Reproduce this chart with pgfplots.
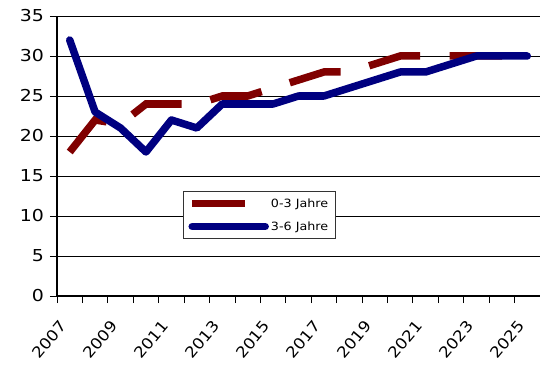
\documentclass[border=0pt]{standalone}
\usepackage{fontspec}
\setmainfont{DejaVu Sans}
\usepackage{pgfplots}
\pgfplotsset{compat=1.18}
\definecolor{cred}{HTML}{800000}
\definecolor{cblue}{HTML}{000080}
\begin{document}
\begin{tikzpicture}
\begin{axis}[
 scale only axis, width=483bp, height=280bp,
 xmin=-0.5, xmax=18.5, ymin=0, ymax=35,
 axis x line*=bottom, axis y line*=left,
 axis line style={-, line width=1.2bp, black},
 /pgf/number format/assume math mode=true,
 ytick={0,5,...,30},
 extra y ticks={35},
 extra y tick style={grid style={gray!80, line width=1.2bp}},
 ymajorgrids, major grid style={black, line width=0.8bp},
 xtick={0,2,...,18},
 xticklabels={2007,2009,2011,2013,2015,2017,2019,2021,2023,2025},
 minor xtick={-0.5,0.5,...,18.5},
 tick align=outside,
 major tick length=7bp, minor tick length=7bp,
 every major x tick/.append style={draw=none},
 every minor x tick/.append style={black, line width=0.8bp},
 every major y tick/.append style={black, line width=0.8bp},
 yticklabel style={font=\fontsize{16.5}{18}\selectfont, xscale=1.15, inner xsep=1bp, xshift=-4bp},
 xticklabel style={font=\fontsize{15.2}{17}\selectfont, rotate=50, xscale=1.12, anchor=east, xshift=-14bp, yshift=-8bp},
 legend style={at={(rel axis cs:0.261,0.375)}, anchor=north west, draw=black!80, line width=0.8bp, fill=white,
   font=\fontsize{11.4}{13}\selectfont, inner xsep=5bp, inner ysep=5bp, row sep=9bp},
 legend cell align=left,
 legend image code/.code={\draw[#1] (0bp,0bp) -- (73bp,0bp);},
]
\addplot[cred, line width=7.5bp, dash pattern=on 52.5bp off 29.5bp] coordinates {
 (0,18)(1,22)(2,21.5)(3,24)(4,24)(5,24)(6,25)(7,25)(8,26)(9,27)(10,28)(11,28)(12,29)(13,30)(14,30)(15,30)(16,30)(17,30)(18,30)};
\addlegendentry{\scalebox{1.12}[1]{0-3 Jahre}}
\addplot[cblue, line width=7.5bp, line cap=round, line join=round] coordinates {
 (0,32)(1,23)(2,21)(3,18)(4,22)(5,21)(6,24)(7,24)(8,24)(9,25)(10,25)(11,26)(12,27)(13,28)(14,28)(15,29)(16,30)(17,30)(18,30)};
\addlegendentry{\scalebox{1.12}[1]{3-6 Jahre}}
\end{axis}
\pgfresetboundingbox
\path[use as bounding box] ([xshift=-57bp,yshift=-73bp]current axis.south west) rectangle ([yshift=16bp]current axis.north east);
\end{tikzpicture}
\end{document}
